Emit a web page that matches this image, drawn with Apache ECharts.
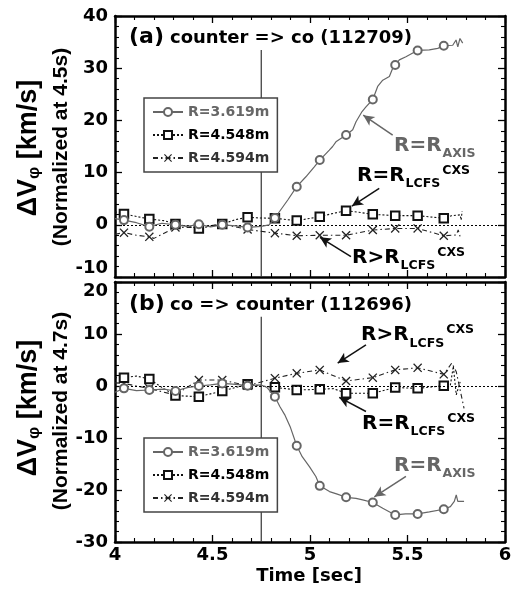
<!DOCTYPE html>
<html>
<head>
<meta charset="utf-8">
<script src="https://cdn.jsdelivr.net/npm/echarts@6/dist/echarts.min.js"></script>
<style>
html, body { margin: 0; padding: 0; background: #fff; }
#chart { width: 512px; height: 590px; }
</style>
</head>
<body>
<div id="chart"></div>
<script>
// times where the markers sit (same for every series)
var markT = [4.046, 4.176, 4.31, 4.43, 4.55, 4.68, 4.82, 4.932, 5.05, 5.185, 5.322, 5.437, 5.552, 5.686];

// (a) counter => co (112709)
var tA1 = [4.0, 4.046, 4.11, 4.176, 4.24, 4.31, 4.37, 4.43, 4.49, 4.55, 4.62, 4.68, 4.75, 4.79, 4.82, 4.886, 4.932, 4.979, 5.022, 5.05, 5.099, 5.116, 5.133, 5.185, 5.219, 5.236, 5.267, 5.287, 5.322, 5.347, 5.373, 5.407, 5.424, 5.437, 5.458, 5.492, 5.527, 5.552, 5.612, 5.655, 5.686, 5.732, 5.749, 5.758, 5.769, 5.783];
var vA1 = [1.2, 0.9, 0.4, -0.35, 0.3, 0, -0.3, 0.1, -0.4, 0, -0.2, -0.5, -0.3, 0, 1.3, 4.75, 7.3, 9.2, 11.1, 12.4, 14.3, 15.0, 15.9, 17.2, 18.2, 19.75, 21.7, 22.6, 24.0, 26.5, 27.7, 28.4, 30.0, 30.6, 31.6, 32.2, 32.9, 33.4, 33.5, 33.8, 34.3, 34.4, 35.4, 34.1, 35.7, 34.8];
var tA2 = [4.0, 4.046, 4.11, 4.176, 4.25, 4.31, 4.43, 4.55, 4.62, 4.68, 4.75, 4.82, 4.932, 5.05, 5.12, 5.185, 5.25, 5.322, 5.437, 5.552, 5.686, 5.726, 5.77, 5.775, 5.78];
var vA2 = [2.5, 2.07, 1.6, 1.1, 0.8, 0.15, -0.7, 0.15, 1.0, 1.44, 1.3, 1.24, 0.8, 1.55, 2.2, 2.7, 2.4, 2.0, 1.75, 1.75, 1.24, 1.75, 1.9, 0.9, 2.6];
var tA3 = [4.0, 4.046, 4.11, 4.176, 4.2, 4.31, 4.43, 4.55, 4.68, 4.82, 4.932, 5.05, 5.185, 5.322, 5.437, 5.552, 5.686, 5.75, 5.76, 5.77];
var vA3 = [-1.8, -1.5, -2.0, -2.3, -2.6, -0.5, -0.5, 0.15, -0.9, -1.6, -2.1, -2.0, -2.0, -1.0, -0.7, -0.7, -2.1, -1.95, -1.0, -2.3];

// (b) co => counter (112696)
var tB1 = [4.0, 4.046, 4.11, 4.176, 4.25, 4.31, 4.37, 4.43, 4.49, 4.55, 4.62, 4.68, 4.75, 4.78, 4.82, 4.846, 4.87, 4.9, 4.932, 4.96, 4.997, 5.03, 5.05, 5.1, 5.14, 5.185, 5.236, 5.27, 5.322, 5.373, 5.437, 5.49, 5.552, 5.612, 5.686, 5.72, 5.74, 5.75, 5.758, 5.79];
var vB1 = [-1.2, -0.45, -0.9, -0.77, -0.6, -0.96, -0.3, 0, 0.2, 0.5, 0.3, 0.06, 0.2, -0.3, -2.05, -4.0, -5.5, -8.0, -11.5, -13.6, -15.5, -17.4, -19.2, -20.3, -20.8, -21.4, -21.6, -21.9, -22.4, -23.5, -24.8, -24.6, -24.6, -24.2, -23.7, -23.2, -22.2, -20.96, -22.2, -22.2];
var tB2 = [4.0, 4.046, 4.11, 4.176, 4.25, 4.31, 4.43, 4.55, 4.68, 4.75, 4.82, 4.932, 5.05, 5.12, 5.185, 5.322, 5.437, 5.552, 5.686, 5.72, 5.735, 5.75, 5.77];
var vB2 = [1.6, 1.6, 1.9, 1.35, -0.5, -1.85, -2.05, -0.96, 0.33, 0.0, -0.25, -0.77, -0.64, -0.5, -1.4, -1.4, -0.3, -0.45, 0.06, 0.2, 3.8, -1.7, 0.8];
var tB3 = [4.0, 4.046, 4.11, 4.176, 4.25, 4.31, 4.43, 4.55, 4.68, 4.82, 4.932, 5.05, 5.185, 5.322, 5.437, 5.552, 5.686, 5.727, 5.75, 5.79];
var vB3 = [0.6, 0.5, 0.0, -0.45, -1.2, -1.7, 1.15, 1.15, 0.06, 1.5, 2.44, 3.1, 0.96, 1.6, 3.1, 3.5, 2.25, 4.4, 2.75, -4.3];

var names = ['R=3.619m', 'R=4.548m', 'R=4.594m'];

var FONT = '"DejaVu Sans", sans-serif';
var ARIAL = '"Liberation Sans", Arial, sans-serif';
var GRAY = '#666';

var chart = echarts.init(document.getElementById('chart'), null, { renderer: 'canvas' });

function pts(t, v) {
    return t.map(function (x, i) {
        var hit = markT.some(function (m) { return Math.abs(m - x) < 0.004; });
        return hit ? [x, v[i]] : { value: [x, v[i]], symbol: 'none' };
    });
}

var crossPath = 'path://M0,1L1,0L5,4L9,0L10,1L6,5L10,9L9,10L5,6L1,10L0,9L4,5Z';
var styles = [
    { symbol: 'emptyCircle', size: 8, color: GRAY, width: 1.2, type: 'solid' },
    { symbol: 'emptyRect', size: 8.5, color: '#111', width: 1.1, type: [2, 2] },
    { symbol: crossPath, size: 9, color: '#222', width: 1.1, type: [5, 3, 1.5, 3] }
];

function dataSeries(k, t, v, idx) {
    var s = styles[k];
    return {
        name: names[k], type: 'line', xAxisIndex: idx * 2, yAxisIndex: idx * 2,
        data: pts(t, v), symbol: s.symbol, symbolSize: s.size, showSymbol: true,
        lineStyle: { color: s.color, width: s.width, type: s.type },
        itemStyle: { color: s.color, borderWidth: 1 },
        silent: true, animation: false, z: 5 - k
    };
}

function arrow(a, b, color) {
    return [{ coord: a, symbol: 'none', lineStyle: { color: color, width: 1.5, type: 'solid' } },
            { coord: b, symbol: 'arrow', symbolSize: [8, 11] }];
}

function frameSeries(idx, vt, vv, arrows) {
    return {
        name: 'frame' + idx, type: 'line', xAxisIndex: idx * 2, yAxisIndex: idx * 2,
        data: vt.map(function (x, i) { return [x, vv[i]]; }),
        symbol: 'none', lineStyle: { color: '#333', width: 1.2 }, silent: true, animation: false, z: 1,
        markLine: {
            silent: true, animation: false, symbol: ['none', 'none'], label: { show: false },
            data: [{ yAxis: 0, lineStyle: { color: '#000', width: 1.2, type: [2, 2] } }].concat(arrows)
        }
    };
}

function xAx(grid, pos, labels) {
    return {
        type: 'value', gridIndex: grid, position: pos, min: 4, max: 6, interval: 0.5,
        axisLine: { onZero: false, lineStyle: { color: '#000', width: 2.5 } },
        axisTick: { inside: true, length: 7, lineStyle: { color: '#000', width: 1.3 } },
        minorTick: { show: true, splitNumber: 5, length: 4, lineStyle: { color: '#000', width: 1.1 } },
        splitLine: { show: false },
        axisLabel: { show: labels, color: '#000', fontFamily: FONT, fontWeight: 'bold', fontSize: 18, margin: 4 }
    };
}

function yAx(grid, pos, min, max, labels, extra) {
    var lab = { show: labels, color: '#000', fontFamily: FONT, fontWeight: 'bold', fontSize: 18, margin: 7 };
    for (var k in extra) lab[k] = extra[k];
    return {
        type: 'value', gridIndex: grid, position: pos, min: min, max: max, interval: 10,
        axisLine: { onZero: false, lineStyle: { color: '#000', width: 2.5 } },
        axisTick: { inside: true, length: 7, lineStyle: { color: '#000', width: 1.3 } },
        minorTick: { show: true, splitNumber: 5, length: 4, lineStyle: { color: '#000', width: 1.1 } },
        splitLine: { show: false },
        axisLabel: lab
    };
}

function legendAt(top) {
    return {
        orient: 'vertical', left: 144, top: top, selectedMode: false,
        itemWidth: 30, itemHeight: 10, itemGap: 7, padding: [6, 8, 6, 8],
        borderColor: '#444', borderWidth: 1.5, backgroundColor: '#fff',
        textStyle: { fontFamily: FONT, fontWeight: 'bold', fontSize: 14, lineHeight: 16 },
        itemStyle: { borderWidth: 0 },
        data: [
            { name: names[0], textStyle: { color: GRAY } },
            { name: names[1], textStyle: { color: '#000' } },
            { name: names[2], textStyle: { color: '#333' } }
        ]
    };
}

// text helpers
var mctx = document.createElement('canvas').getContext('2d');
function textW(s, font) { mctx.font = font; return mctx.measureText(s).width; }

function txt(x, y, s, font, color, align) {
    return { type: 'text', silent: true, z: 50,
        style: { x: x, y: y, text: s, font: font, fill: color, textAlign: align || 'left', textVerticalAlign: 'middle' } };
}

var MAIN = 'bold 20px ' + FONT;
var SMALL = 'bold 12.5px ' + FONT;
function label(x, y, sub, sup, color, op) {
    var out = [];
    var m = 'R' + op + 'R';
    out.push(txt(x, y, m, MAIN, color));
    var x2 = x + textW(m, MAIN) + 1;
    out.push(txt(x2, y + 8.5, sub, SMALL, color));
    if (sup) {
        var x3 = x2 + textW(sub, SMALL) + 2;
        out.push(txt(x3, y - 5, sup, SMALL, color));
    }
    return out;
}

function yTitle(cx, cy, cx2, cy2, when) {
    return [
        { type: 'text', silent: true, x: cx, y: cy, rotation: Math.PI / 2,
          style: { text: '{a|ΔV}{b|φ}{a| [km/s]}', textAlign: 'center', textVerticalAlign: 'middle', fill: '#000',
                   rich: { a: { font: 'bold 27px ' + ARIAL, fill: '#000' },
                           b: { font: 'bold 17px ' + ARIAL, fill: '#000', verticalAlign: 'bottom' } } } },
        { type: 'text', silent: true, x: cx2, y: cy2, rotation: Math.PI / 2,
          style: { text: '(Normalized at ' + when + ')', font: 'bold 21px ' + ARIAL, fill: '#000',
                   textAlign: 'center', textVerticalAlign: 'middle' } }
    ];
}

var graphics = [].concat(
    [txt(129, 37, '(a)', 'bold 22px ' + FONT, '#000'),
     txt(170, 38, 'counter => co (112709)', 'bold 18px ' + FONT, '#000'),
     txt(129, 304, '(b)', 'bold 22px ' + FONT, '#000'),
     txt(170, 305, 'co => counter (112696)', 'bold 18px ' + FONT, '#000'),
     txt(309, 576, 'Time [sec]', 'bold 18px ' + FONT, '#000', 'center')],
    label(394, 145.5, 'AXIS', null, GRAY, '='),
    label(357, 175.5, 'LCFS', 'CXS', '#000', '='),
    label(352, 257.5, 'LCFS', 'CXS', '#000', '>'),
    label(361, 335, 'LCFS', 'CXS', '#000', '>'),
    label(362, 423.5, 'LCFS', 'CXS', '#000', '='),
    label(394, 465.5, 'AXIS', null, GRAY, '='),
    yTitle(29, 148, 61, 147, '4.5s'),
    yTitle(29, 408, 61, 411, '4.7s')
);

var option = {
    backgroundColor: '#fff',
    animation: false,
    grid: [
        { left: 115, top: 16, width: 390, height: 261, outerBoundsMode: 'none' },
        { left: 115, top: 282, width: 390, height: 260, outerBoundsMode: 'none' }
    ],
    xAxis: [xAx(0, 'bottom', false), xAx(0, 'top', false), xAx(1, 'bottom', true), xAx(1, 'top', false)],
    yAxis: [
        yAx(0, 'left', -10, 40, true, { verticalAlignMinLabel: 'bottom' }),
        yAx(0, 'right', -10, 40, false, {}),
        yAx(1, 'left', -30, 20, true, { verticalAlignMaxLabel: 'top' }),
        yAx(1, 'right', -30, 20, false, {})
    ],
    legend: [legendAt(98), legendAt(438)],
    series: [
        frameSeries(0, [4.75, 4.75], [33.5, -10], [
            arrow([5.424, 17.2], [5.273, 21.0], GRAY),
            arrow([5.355, 7.0], [5.215, 3.6], '#111'),
            arrow([5.21, -6.1], [5.051, -2.4], '#111')
        ]),
        frameSeries(1, [4.75, 4.75], [13.3, -30], [
            arrow([5.287, 7.9], [5.142, 4.4], '#111'),
            arrow([5.287, -4.9], [5.15, -2.2], '#111'),
            arrow([5.492, -17.4], [5.33, -21.3], GRAY)
        ]),
        dataSeries(2, tA3, vA3, 0), dataSeries(1, tA2, vA2, 0), dataSeries(0, tA1, vA1, 0),
        dataSeries(2, tB3, vB3, 1), dataSeries(1, tB2, vB2, 1), dataSeries(0, tB1, vB1, 1)
    ],
    graphic: graphics
};

chart.setOption(option);
</script>
</body>
</html>
